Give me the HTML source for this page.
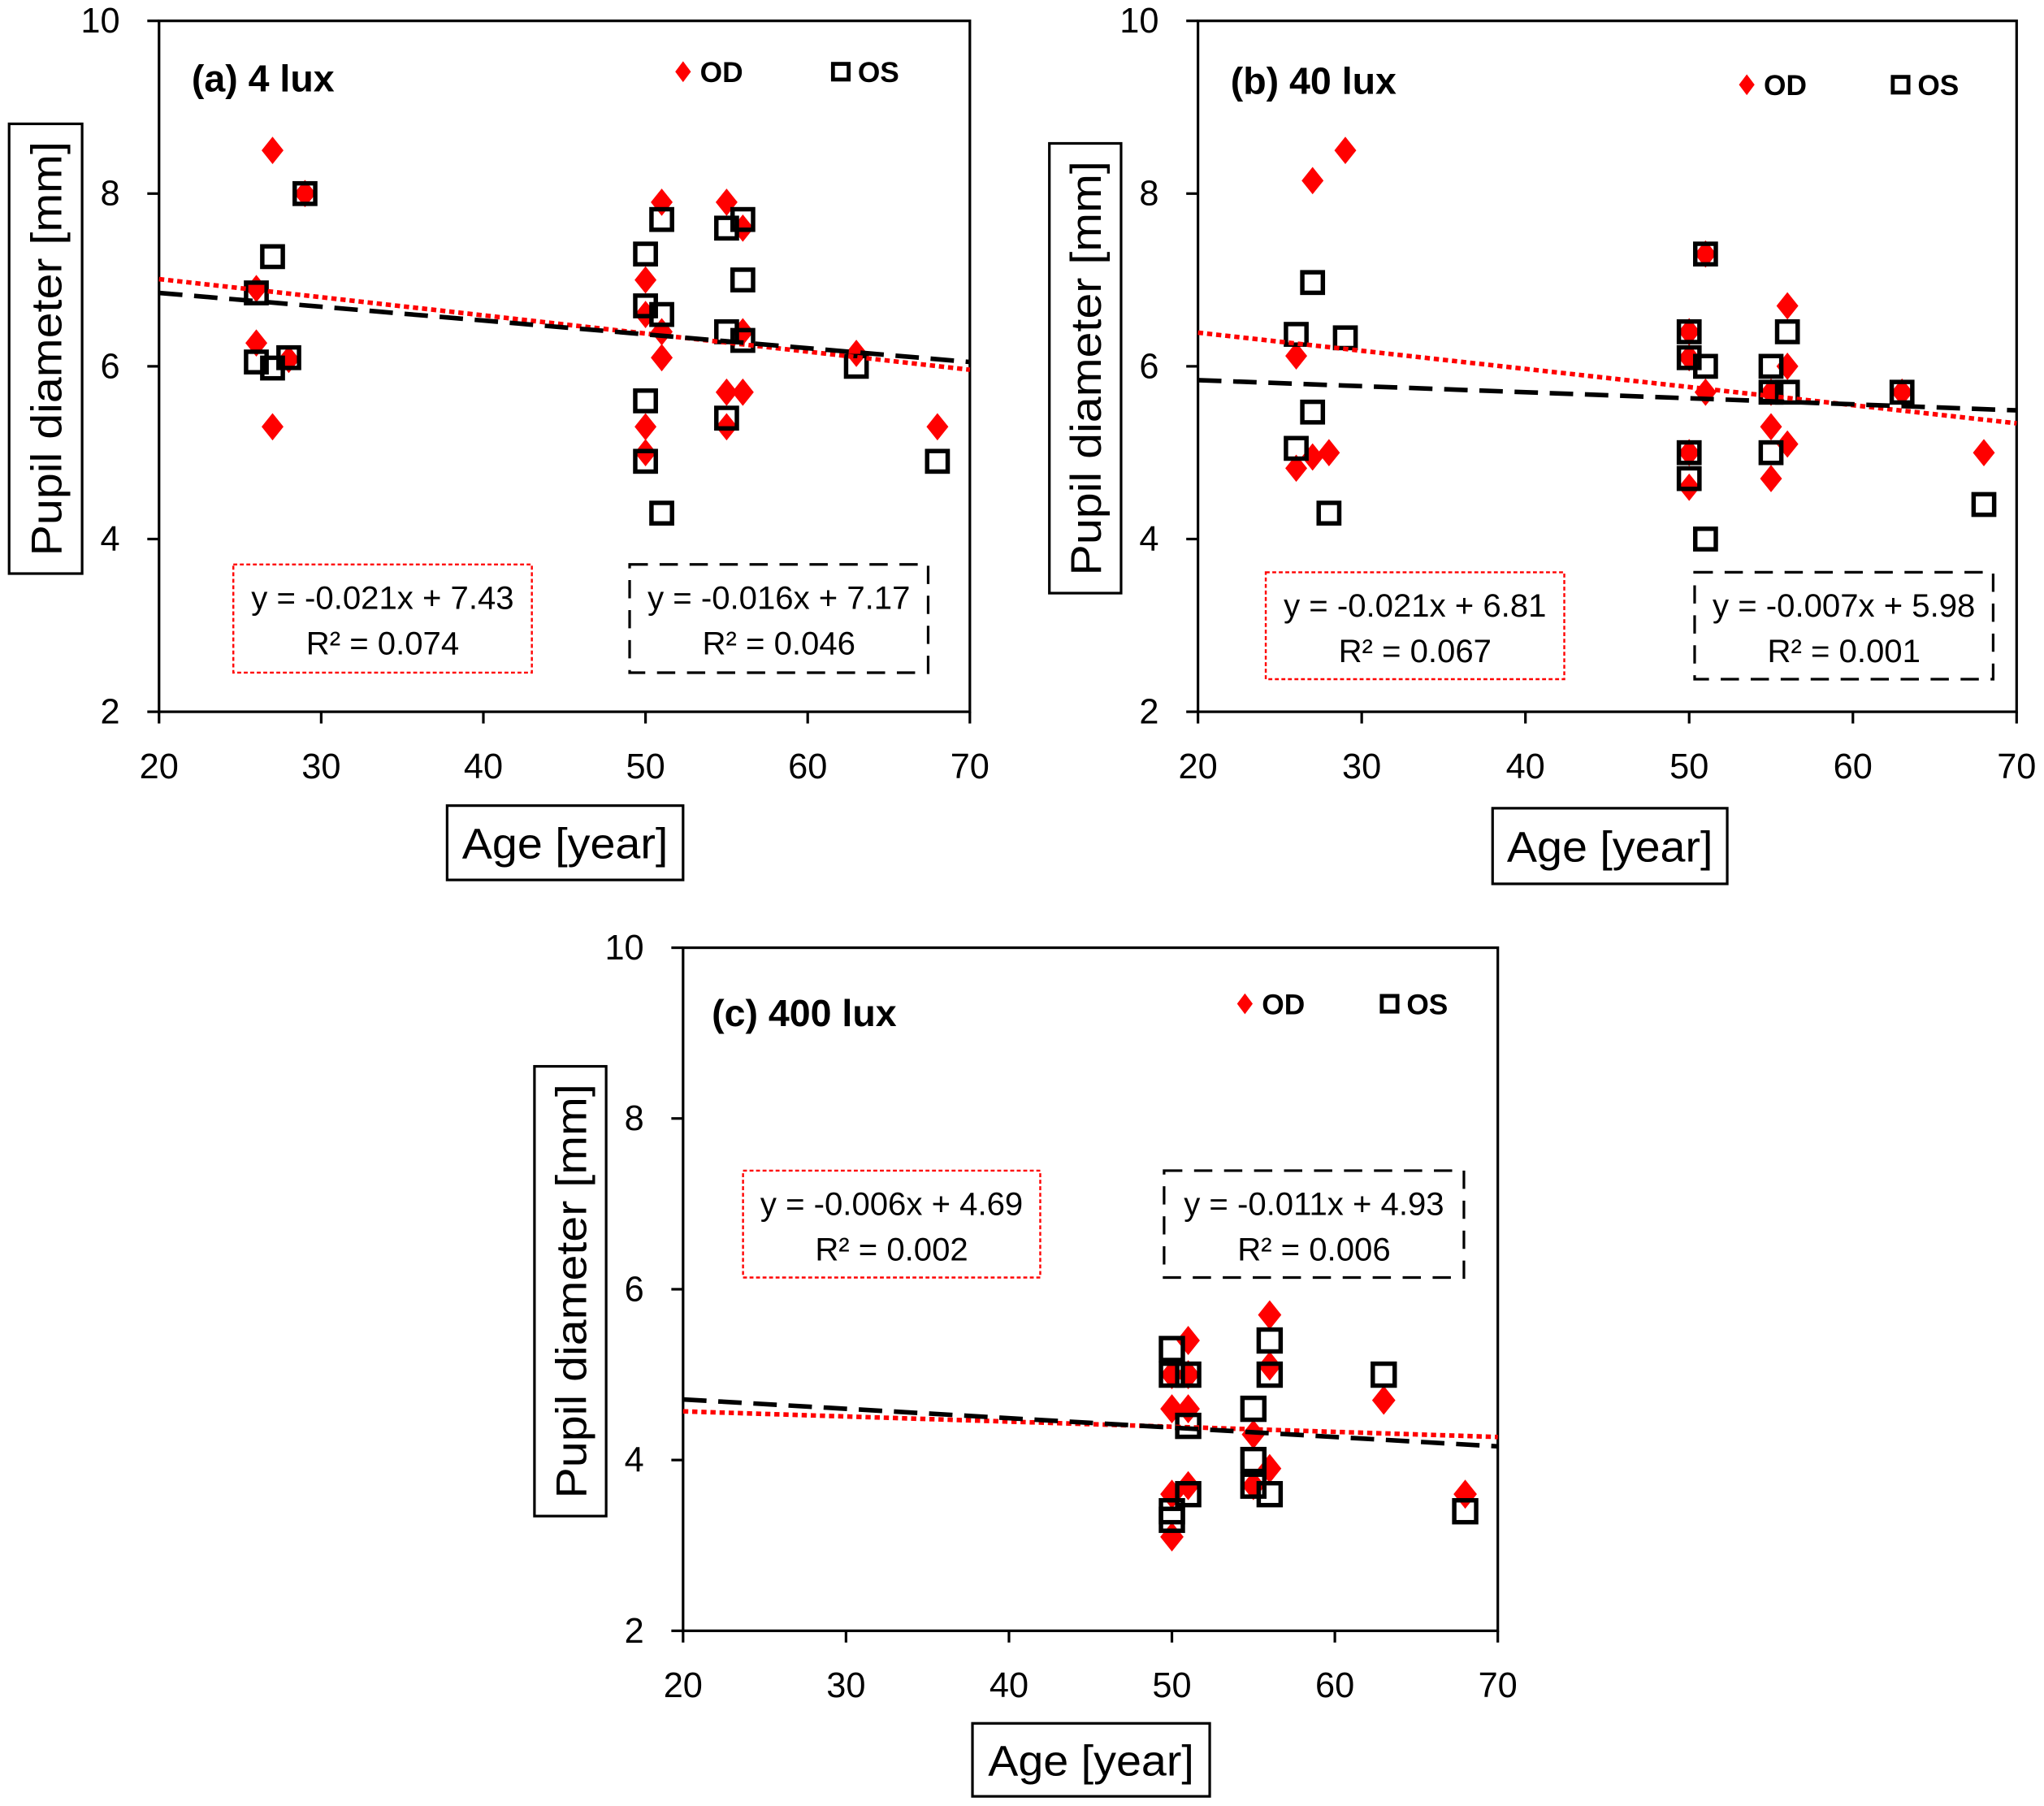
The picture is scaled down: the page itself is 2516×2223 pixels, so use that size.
<!DOCTYPE html>
<html><head><meta charset="utf-8"><style>
html,body{margin:0;padding:0;background:#fff;}
svg{display:block;font-family:"Liberation Sans",sans-serif;}
</style></head><body>
<svg id="fig" width="2516" height="2223" viewBox="0 0 1568 1385.4" preserveAspectRatio="none" xmlns="http://www.w3.org/2000/svg"></svg>
<script>
// ---- data ----
const panelTitles = ["(a) 4 lux", "(b) 40 lux", "(c) 400 lux"];
const xTicks = [20, 30, 40, 50, 60, 70];
const yTicks = [2, 4, 6, 8, 10];
const aOdAge = [27,29,26,26,27,28,50,50,50,50,51,51,51,55,55,55,56,56,56,63,68];
const aOdVal = [8.5,8.0,6.9,6.27,5.3,6.08,7.0,6.6,5.3,5.0,7.9,6.4,6.1,7.9,5.7,5.3,7.6,6.4,5.7,6.15,5.3];
const aOsAge = [26,27,26,27,28,29,50,50,50,50,51,51,51,55,55,55,56,56,56,63,68];
const aOsVal = [6.85,7.27,6.05,5.98,6.1,8.0,7.3,6.7,5.6,4.9,7.7,6.6,4.3,7.6,6.4,5.4,7.7,7.0,6.3,6.0,4.9];
const bOdAge = [27,29,26,26,27,28,50,50,50,50,51,51,55,55,55,56,56,56,63,68];
const bOdVal = [8.15,8.5,6.12,4.82,4.95,5.0,6.4,6.1,5.0,4.6,7.3,5.7,5.7,5.3,4.7,6.7,6.0,5.1,5.7,5.0];
const bOsAge = [26,27,29,26,27,28,50,50,50,50,51,51,51,55,55,55,56,56,63,68];
const bOsVal = [6.37,6.97,6.33,5.05,5.47,4.3,6.4,6.1,5.0,4.7,7.3,6.0,4.0,6.0,5.7,5.0,6.4,5.7,5.7,4.4];
const cOdAge = [50,50,50,50,51,51,51,51,55,55,56,56,56,63,68];
const cOdVal = [4.6,3.6,3.1,5.0,5.4,4.6,3.7,5.0,4.3,3.7,5.7,5.1,3.9,4.7,3.6];
const cOsAge = [50,50,50,50,51,51,51,55,55,55,56,56,56,63,68];
const cOsVal = [5.3,5.0,3.4,3.3,5.0,4.4,3.6,4.6,4.0,3.7,5.4,5.0,3.6,5.0,3.4];
const odSlope = [-0.021,-0.021,-0.006];
const odIntercept = [7.43,6.81,4.69];
const osSlope = [-0.016,-0.007,-0.011];
const osIntercept = [7.17,5.98,4.93];
const odEq = ["y = -0.021x + 7.43","y = -0.021x + 6.81","y = -0.006x + 4.69"];
const odR2 = ["R² = 0.074","R² = 0.067","R² = 0.002"];
const osEq = ["y = -0.016x + 7.17","y = -0.007x + 5.98","y = -0.011x + 4.93"];
const osR2 = ["R² = 0.046","R² = 0.001","R² = 0.006"];

// ---- layout ----
const NS = "http://www.w3.org/2000/svg";
const svg = document.getElementById("fig");
function mk(tag, attrs, parent, text){
  const e = document.createElementNS(NS, tag);
  for (const k in attrs) e.setAttribute(k, attrs[k]);
  if (text !== undefined) e.textContent = text;
  (parent || svg).appendChild(e);
  return e;
}
const panels = [
  {x0:122,x1:744,y0:16,y1:546, title:[147,70], leg:[524,55,645,55], yl:[7,95,56,345], xl:[343,618,181,57],
   odBox:[179,433,229,83], osBox:[483,433,229,83], od:[aOdAge,aOdVal], os:[aOsAge,aOsVal], ms:1.05},
  {x0:919,x1:1547,y0:16,y1:546, title:[944,72], leg:[1340,65,1458,65], yl:[805,110,55,345], xl:[1145,620,180,58],
   odBox:[971,439,229,82], osBox:[1300,439,229,82], od:[bOdAge,bOdVal], os:[bOsAge,bOsVal], ms:1.05},
  {x0:524,x1:1149,y0:727,y1:1251, title:[546,787], leg:[955,770,1066,770], yl:[410,818,55,345], xl:[746,1322,182,56],
   odBox:[570,898,228,82], osBox:[893,898,230,82], od:[cOdAge,cOdVal], os:[cOsAge,cOsVal], ms:1.12}
];

panels.forEach((p, i) => {
  const g = mk("g", {});
  
  
  const sx = v => p.x0 + (v - 20) / 50 * (p.x1 - p.x0);
  const sy = v => p.y1 - (v - 2) / 8 * (p.y1 - p.y0);

  const frame = mk("rect", {x:p.x0, y:p.y0, width:p.x1-p.x0, height:p.y1-p.y0, fill:"none", stroke:"#000", "stroke-width":2}, g);
  
  

  xTicks.forEach(t => {
    mk("line", {x1:sx(t), x2:sx(t), y1:p.y1, y2:p.y1+9, stroke:"#000", "stroke-width":2}, g);
    const tl = mk("text", {x:sx(t), y:p.y1+51, "font-size":27, "text-anchor":"middle"}, g, t);
    
    
  });
  yTicks.forEach(t => {
    mk("line", {x1:p.x0-9, x2:p.x0, y1:sy(t), y2:sy(t), stroke:"#000", "stroke-width":2}, g);
    const tl = mk("text", {x:p.x0-30, y:sy(t)+9, "font-size":27, "text-anchor":"end"}, g, t);
    
    
  });

  // axis titles
  const yb = mk("rect", {x:p.yl[0], y:p.yl[1], width:p.yl[2], height:p.yl[3], fill:"#fff", stroke:"#000", "stroke-width":2}, g);
  
  
  const cx = p.yl[0]+p.yl[2]/2+12, cy = p.yl[1]+p.yl[3]/2;
  const yt = mk("text", {x:cx, y:cy, "font-size":33, "text-anchor":"middle", textLength:318, lengthAdjust:"spacingAndGlyphs", transform:`rotate(-90 ${cx} ${cy})`}, g, "Pupil diameter [mm]");
  
  
  const xb = mk("rect", {x:p.xl[0], y:p.xl[1], width:p.xl[2], height:p.xl[3], fill:"#fff", stroke:"#000", "stroke-width":2}, g);
  
  
  const xt = mk("text", {x:p.xl[0]+p.xl[2]/2, y:p.xl[1]+p.xl[3]/2+12, "font-size":33, "text-anchor":"middle", textLength:158, lengthAdjust:"spacingAndGlyphs"}, g, "Age [year]");
  
  

  // title
  const tt = mk("text", {x:p.title[0], y:p.title[1], "font-size":29, "font-weight":"bold"}, g, panelTitles[i]);
  
  

  // legend
  const [lx1, ly1, lx2, ly2] = p.leg;
  const ld = mk("path", {d:`M${lx1} ${ly1-8} L${lx1+6} ${ly1} L${lx1} ${ly1+8} L${lx1-6} ${ly1} Z`, fill:"#f00"}, g);
  
  
  const lt1 = mk("text", {x:lx1+13, y:ly1+8, "font-size":22, "font-weight":"bold"}, g, "OD");
  
  
  const ls = mk("rect", {x:lx2-6, y:ly1-6, width:12, height:12, fill:"none", stroke:"#000", "stroke-width":3}, g);
  
  
  const lt2 = mk("text", {x:lx2+13, y:ly2+8, "font-size":22, "font-weight":"bold"}, g, "OS");
  
  

  // OD diamonds (drawn first)
  const dw = 8*p.ms, dh = 10*p.ms;
  p.od[0].forEach((a, k) => {
    const x = sx(a), y = sy(p.od[1][k]);
    const d = mk("path", {d:`M${x} ${y-dh} L${x+dw} ${y} L${x} ${y+dh} L${x-dw} ${y} Z`, fill:"#f00"}, g);
    
    
  });
  // OS squares on top
  const s = 7.5*p.ms;
  p.os[0].forEach((a, k) => {
    const r = mk("rect", {x:sx(a)-s, y:sy(p.os[1][k])-s, width:2*s, height:2*s, fill:"none", stroke:"#000", "stroke-width":3.4}, g);
    
    
  });

  // trendlines
  const odL = mk("line", {x1:p.x0, y1:sy(odSlope[i]*20+odIntercept[i]), x2:p.x1, y2:sy(odSlope[i]*70+odIntercept[i]), stroke:"#f00", "stroke-width":3.5, "stroke-dasharray":"4 3"}, g);
  
  
  const osL = mk("line", {x1:p.x0, y1:sy(osSlope[i]*20+osIntercept[i]), x2:p.x1, y2:sy(osSlope[i]*70+osIntercept[i]), stroke:"#000", "stroke-width":3.5, "stroke-dasharray":"18 9"}, g);
  
  

  // equation boxes
  const ob = p.odBox;
  const obr = mk("rect", {x:ob[0], y:ob[1], width:ob[2], height:ob[3], fill:"#fff", stroke:"#f00", "stroke-width":1.5, "stroke-dasharray":"3 2"}, g);
  
  
  const oe1 = mk("text", {x:ob[0]+ob[2]/2, y:ob[1]+34, "font-size":25, "text-anchor":"middle"}, g, odEq[i]);
  
  
  const oe2 = mk("text", {x:ob[0]+ob[2]/2, y:ob[1]+69, "font-size":25, "text-anchor":"middle"}, g, odR2[i]);
  
  
  const sb = p.osBox;
  const sbr = mk("rect", {x:sb[0], y:sb[1], width:sb[2], height:sb[3], fill:"#fff", stroke:"#000", "stroke-width":2, "stroke-dasharray":"14 9"}, g);
  
  
  const se1 = mk("text", {x:sb[0]+sb[2]/2, y:sb[1]+34, "font-size":25, "text-anchor":"middle"}, g, osEq[i]);
  
  
  const se2 = mk("text", {x:sb[0]+sb[2]/2, y:sb[1]+69, "font-size":25, "text-anchor":"middle"}, g, osR2[i]);
  
  
});
</script>
</body></html>
